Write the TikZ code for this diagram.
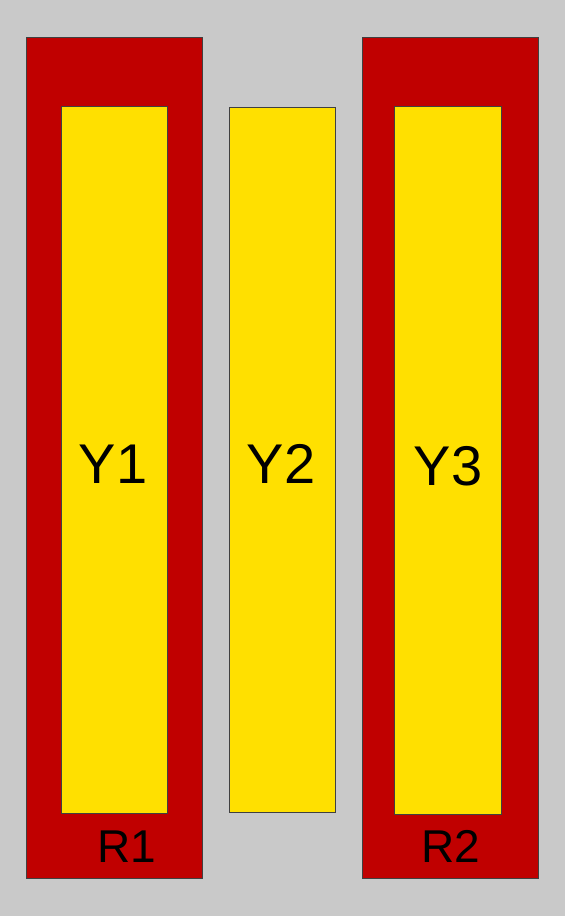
\documentclass[tikz,border=0pt]{standalone}
\usepackage{fontspec}
\setmainfont{Liberation Sans}
\definecolor{bg}{HTML}{C9C9C9}
\definecolor{redbox}{HTML}{C00000}
\definecolor{yelbox}{HTML}{FFE000}
\definecolor{edge}{HTML}{404040}
\tikzset{
  redrect/.style={fill=redbox, draw=edge, line width=0.8pt},
  yelrect/.style={fill=yelbox, draw=edge, line width=0.8pt},
  ylabel/.style={anchor=base, inner sep=0pt, font=\fontsize{56}{60}\selectfont},
  rlabel/.style={anchor=base, inner sep=0pt, font=\fontsize{46}{50}\selectfont}
}
\begin{document}
\begin{tikzpicture}[x=1pt,y=-1pt]
\fill[bg] (0,0) rectangle (565,916);
\useasboundingbox (0,0) rectangle (565,916);
\path[redrect] (26.5,37) rectangle (202,878.5);
\path[redrect] (362.5,37) rectangle (538,878.5);
\path[yelrect] (61,106) rectangle (167,813);
\path[yelrect] (229,107) rectangle (335,812);
\path[yelrect] (394.5,106) rectangle (501,814);
\node[ylabel] (y1) at (113,483) {Y1};
\node[ylabel] (y2) at (281,483) {Y2};
\node[ylabel] (y3) at (448,485.5) {Y3};
\node[rlabel] (r1) at (127,862) {R1};
\node[rlabel] (r2) at (451,862) {R2};
\end{tikzpicture}
\end{document}
